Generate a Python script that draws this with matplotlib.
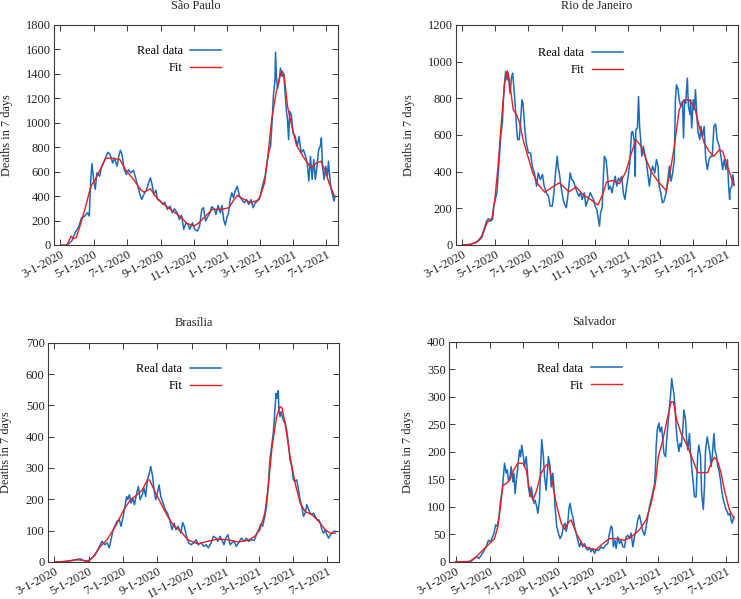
#!/usr/bin/env python3
# Weekly COVID deaths (7-day sums) for four Brazilian cities: real data vs fit.
import matplotlib
matplotlib.use("Agg")
import matplotlib.pyplot as plt
import numpy as np

plt.rcParams["font.family"] = ["Liberation Serif", "DejaVu Serif"]

START = np.datetime64("2020-03-01")
TICK_DATES = ["2020-03-01", "2020-05-01", "2020-07-01", "2020-09-01", "2020-11-01",
              "2021-01-01", "2021-03-01", "2021-05-01", "2021-07-01"]
TICK_LABELS = ["3-1-2020", "5-1-2020", "7-1-2020", "9-1-2020", "11-1-2020",
               "1-1-2021", "3-1-2021", "5-1-2021", "7-1-2021"]

BLUE = "#1a6cbf"
RED = "#ee1c1c"
INK = "#222222"
FRAME = "#3a3a3a"

# --- data: x = days since 3-1-2020 -------------------------------------------

sp_real_day = [12, 21, 27, 33, 39, 45, 50, 53, 56, 58,
               61, 64, 67, 72, 75, 79, 84, 87, 91, 96,
               99, 104, 107, 110, 113, 117, 121, 125, 129, 134,
               137, 142, 145, 149, 153, 158, 162, 165, 168, 171,
               175, 178, 183, 188, 191, 196, 201, 205, 209, 214,
               218, 222, 226, 230, 234, 237, 242, 246, 251, 255,
               259, 262, 266, 269, 274, 277, 282, 285, 289, 293,
               296, 299, 302, 305, 308, 311, 314, 317, 320, 324,
               328, 332, 337, 341, 345, 349, 353, 357, 361, 366,
               370, 375, 378, 382, 385, 388, 390, 393, 394, 396,
               398, 401, 403, 406, 409, 412, 414, 416, 418, 420,
               423, 426, 430, 434, 437, 441, 445, 449, 452, 455,
               458, 461, 464, 467, 470, 473, 476, 478, 480, 483,
               486, 489, 491, 494, 496, 499, 501, 503]
sp_real_val = [0, 33, 100, 140, 223, 237, 264, 237, 550, 666,
               535, 455, 590, 563, 630, 670, 725, 758, 740, 670,
               712, 645, 725, 775, 740, 617, 576, 617, 590, 612,
               563, 481, 427, 372, 413, 454, 514, 549, 495, 413,
               449, 372, 359, 332, 351, 291, 318, 264, 296, 264,
               209, 242, 128, 182, 169, 128, 182, 128, 114, 155,
               291, 305, 196, 223, 264, 313, 296, 250, 324, 264,
               324, 209, 163, 223, 264, 372, 427, 386, 440, 481,
               400, 372, 345, 372, 332, 372, 305, 345, 359, 400,
               481, 563, 658, 767, 808, 1025, 1215, 1351, 1577, 1351,
               1283, 1351, 1447, 1379, 1406, 1215, 1093, 1025, 862, 1093,
               1066, 916, 889, 808, 889, 753, 780, 726, 672, 522,
               726, 536, 699, 536, 644, 780, 808, 876, 644, 536,
               644, 563, 685, 522, 454, 400, 359, 400]
sp_fit_day = [1, 12, 20, 24, 29, 36, 45, 56, 64, 73,
              83, 94, 109, 119, 134, 147, 153, 165, 174, 186,
              202, 220, 232, 245, 254, 266, 278, 294, 309, 318,
              324, 337, 349, 364, 374, 380, 387, 395, 401, 406,
              410, 416, 424, 432, 444, 459, 469, 477, 484, 493, 502]
sp_fit_val = [0, 0, 73, 52, 60, 155, 291, 481, 536, 617,
              710, 710, 699, 617, 536, 454, 432, 460, 400, 345,
              291, 231, 177, 155, 182, 237, 291, 291, 305, 372,
              405, 372, 345, 372, 508, 726, 1025, 1243, 1365, 1425,
              1379, 1134, 971, 821, 726, 631, 672, 685, 617, 495, 400]

rj_real_day = [2, 14, 23, 29, 36, 40, 45, 48, 52, 56,
               58, 61, 64, 66, 69, 71, 74, 76, 78, 80,
               83, 85, 88, 91, 93, 95, 97, 100, 102, 105,
               107, 110, 112, 115, 118, 122, 126, 129, 133, 137,
               140, 144, 148, 151, 155, 159, 162, 166, 169, 172,
               175, 177, 179, 182, 186, 189, 192, 195, 199, 202,
               205, 208, 211, 215, 218, 221, 225, 228, 232, 236,
               239, 242, 245, 248, 251, 253, 255, 258, 260, 262,
               265, 267, 270, 273, 276, 279, 282, 285, 288, 291,
               294, 297, 300, 303, 306, 309, 312, 314, 317, 319,
               320, 323, 325, 327, 329, 331, 334, 336, 339, 342,
               345, 348, 351, 355, 358, 361, 363, 366, 369, 372,
               376, 379, 382, 385, 388, 391, 393, 395, 398, 400,
               403, 406, 408, 410, 412, 415, 417, 420, 421, 423,
               426, 428, 430, 433, 435, 438, 440, 443, 446, 449,
               452, 455, 458, 461, 464, 467, 470, 474, 477, 480,
               483, 486, 489, 491, 493, 494, 497, 499, 501]
rj_real_val = [0, 0, 13, 22, 49, 85, 130, 143, 130, 140,
               212, 248, 285, 375, 502, 593, 665, 792, 883, 946,
               900, 937, 828, 919, 937, 865, 792, 647, 575, 575,
               647, 792, 774, 647, 556, 502, 502, 430, 393, 321,
               393, 357, 384, 321, 285, 266, 212, 212, 285, 393,
               484, 420, 393, 321, 248, 221, 203, 276, 393, 357,
               348, 321, 294, 266, 285, 248, 285, 212, 248, 285,
               266, 248, 212, 194, 140, 103, 176, 203, 357, 484,
               466, 411, 303, 321, 285, 330, 375, 321, 366, 348,
               375, 285, 248, 321, 375, 448, 611, 620, 575, 375,
               629, 638, 810, 647, 575, 484, 538, 502, 466, 393,
               321, 393, 430, 393, 466, 430, 321, 285, 230, 239,
               285, 357, 430, 348, 393, 466, 792, 874, 847, 792,
               756, 783, 584, 792, 774, 910, 756, 711, 792, 638,
               792, 738, 847, 683, 611, 575, 647, 593, 647, 466,
               411, 466, 484, 484, 647, 660, 575, 538, 484, 411,
               466, 411, 466, 330, 248, 303, 321, 384, 330]
rj_fit_day = [0, 14, 26, 36, 40, 45, 50, 55, 60, 66,
              72, 78, 83, 88, 94, 100, 106, 112, 121, 130,
              140, 152, 164, 179, 189, 197, 210, 222, 235, 250,
              259, 266, 277, 290, 302, 311, 320, 330, 339, 348,
              363, 376, 382, 391, 400, 409, 418, 428, 437, 446,
              455, 464, 474, 480, 489, 501]
rj_fit_val = [0, 4, 13, 40, 76, 118, 134, 149, 248, 430,
              665, 883, 950, 874, 738, 711, 665, 575, 484, 393,
              330, 288, 312, 339, 312, 290, 317, 276, 252, 218,
              276, 343, 352, 334, 402, 493, 575, 538, 466, 402,
              339, 297, 375, 538, 738, 792, 792, 756, 647, 556,
              511, 484, 520, 511, 430, 324]

bsb_real_day = [1, 16, 28, 37, 46, 55, 61, 67, 73, 79,
                85, 90, 94, 98, 101, 105, 109, 112, 116, 119,
                123, 126, 129, 131, 134, 137, 140, 143, 147, 150,
                153, 157, 160, 163, 166, 169, 172, 175, 178, 181,
                184, 187, 190, 194, 198, 202, 206, 210, 214, 217,
                221, 226, 229, 232, 236, 240, 244, 249, 253, 257,
                262, 267, 271, 275, 280, 284, 289, 292, 296, 299,
                303, 306, 310, 314, 317, 321, 325, 329, 334, 339,
                343, 347, 352, 357, 362, 365, 369, 372, 376, 379,
                382, 385, 388, 391, 394, 396, 398, 400, 401, 403,
                405, 407, 410, 412, 415, 418, 421, 424, 427, 430,
                433, 436, 439, 442, 445, 448, 451, 454, 457, 460,
                463, 466, 469, 472, 475, 478, 481, 484, 487, 490,
                493, 496, 499, 502]
bsb_real_val = [0, 1, 4, 7, 10, 2, 5, 13, 23, 45,
                66, 55, 61, 45, 71, 103, 119, 130, 135, 114,
                146, 177, 209, 199, 215, 188, 204, 183, 220, 241,
                199, 215, 236, 209, 262, 278, 305, 278, 230, 199,
                220, 246, 209, 188, 167, 156, 135, 103, 124, 103,
                114, 92, 126, 114, 82, 61, 55, 61, 71, 55,
                61, 50, 55, 45, 61, 82, 76, 66, 82, 71,
                55, 76, 87, 55, 61, 66, 50, 61, 76, 66,
                76, 66, 71, 69, 92, 103, 122, 114, 146, 177,
                241, 326, 369, 411, 485, 538, 523, 547, 485, 464,
                480, 464, 448, 448, 422, 379, 326, 305, 262, 257,
                262, 230, 199, 177, 146, 156, 183, 167, 156, 151,
                156, 146, 135, 135, 124, 103, 92, 103, 87, 76,
                87, 92, 98, 98]
bsb_fit_day = [1, 22, 40, 52, 61, 70, 82, 94, 109, 124,
               136, 148, 157, 166, 170, 178, 190, 202, 214, 226,
               238, 256, 274, 292, 310, 328, 346, 358, 367, 376,
               382, 389, 397, 403, 407, 413, 421, 430, 439, 448,
               460, 472, 484, 493, 502]
bsb_fit_val = [0, 2, 7, 5, 2, 18, 50, 71, 114, 167,
               199, 215, 230, 262, 262, 230, 188, 146, 114, 98,
               71, 58, 66, 73, 71, 64, 69, 82, 103, 156,
               241, 369, 464, 496, 491, 432, 337, 252, 188, 161,
               151, 130, 103, 92, 92]

ssa_real_day = [2, 19, 28, 34, 38, 42, 46, 50, 55, 59,
                63, 66, 69, 72, 75, 78, 81, 84, 86, 88,
                91, 93, 95, 98, 100, 103, 105, 107, 110, 112,
                115, 117, 119, 122, 124, 127, 129, 131, 134, 136,
                139, 141, 143, 146, 148, 151, 153, 155, 158, 160,
                163, 165, 167, 170, 172, 175, 177, 179, 182, 185,
                188, 191, 194, 197, 199, 202, 204, 206, 209, 211,
                214, 217, 220, 223, 226, 229, 232, 235, 238, 241,
                244, 247, 250, 253, 257, 262, 266, 270, 274, 277,
                280, 282, 284, 287, 289, 292, 295, 298, 301, 304,
                307, 310, 313, 316, 319, 322, 325, 328, 331, 334,
                337, 340, 343, 346, 349, 352, 355, 358, 360, 361,
                363, 366, 368, 371, 373, 375, 378, 380, 383, 385,
                387, 389, 391, 393, 395, 397, 399, 402, 404, 406,
                409, 411, 414, 416, 418, 421, 423, 426, 428, 430,
                433, 436, 438, 441, 443, 446, 448, 450, 453, 455,
                458, 460, 462, 465, 467, 470, 472, 474, 477, 479,
                482, 484, 486, 489, 491, 494, 496, 498, 501]
ssa_real_val = [0, 0, 1, 6, 9, 6, 12, 18, 27, 39,
                36, 44, 52, 67, 64, 82, 112, 130, 155, 179,
                161, 167, 148, 155, 173, 145, 161, 124, 155, 173,
                203, 191, 212, 191, 173, 191, 167, 136, 118, 136,
                118, 106, 112, 100, 88, 112, 173, 222, 191, 155,
                130, 161, 191, 173, 136, 161, 136, 100, 64, 52,
                42, 48, 64, 70, 55, 70, 97, 106, 88, 82,
                64, 52, 39, 27, 36, 27, 33, 24, 21, 26,
                18, 24, 15, 22, 20, 27, 24, 30, 33, 52,
                65, 61, 27, 39, 24, 45, 33, 39, 27, 26,
                45, 48, 42, 52, 27, 45, 58, 76, 85, 70,
                55, 48, 64, 82, 100, 112, 127, 139, 173, 209,
                239, 252, 236, 245, 221, 197, 191, 221, 258, 282,
                303, 333, 318, 306, 282, 245, 221, 200, 215, 209,
                239, 276, 258, 221, 203, 233, 197, 161, 142, 118,
                118, 197, 212, 191, 124, 95, 136, 203, 227, 215,
                197, 173, 191, 233, 203, 191, 173, 167, 148, 130,
                112, 106, 97, 91, 85, 88, 76, 70, 82]
ssa_fit_day = [0, 25, 37, 49, 61, 70, 76, 81, 85, 91,
               97, 103, 112, 121, 127, 133, 139, 145, 154, 163,
               168, 172, 181, 190, 196, 202, 208, 217, 229, 241,
               253, 265, 277, 289, 304, 316, 331, 343, 352, 360,
               365, 373, 382, 388, 392, 398, 406, 418, 427, 436,
               445, 454, 460, 466, 472, 478, 484, 493, 501]
ssa_fit_val = [0, 0, 9, 21, 33, 42, 64, 103, 139, 142,
               148, 164, 179, 179, 167, 130, 112, 127, 161, 176,
               176, 155, 106, 70, 59, 70, 76, 52, 30, 24,
               22, 33, 42, 42, 39, 45, 58, 76, 106, 145,
               191, 221, 264, 291, 291, 258, 233, 209, 185, 162,
               162, 162, 179, 190, 182, 161, 130, 94, 79]

# --- layout (figure fractions) -----------------------------------------------

LAYOUT = {
    "São Paulo":      dict(rect=[0.0729, 0.5910, 0.3833, 0.3673], ylab=-0.146, leg=(0.588, 0.910)),
    "Rio de Janeiro": dict(rect=[0.6154, 0.5910, 0.3806, 0.3673], ylab=-0.146, leg=(0.592, 0.900)),
    "Brasília":       dict(rect=[0.0648, 0.0618, 0.3927, 0.3661], ylab=-0.124, leg=(0.594, 0.906)),
    "Salvador":       dict(rect=[0.6063, 0.0623, 0.3897, 0.3672], ylab=-0.122, leg=(0.598, 0.905)),
}


def draw_panel(fig, title, real_day, real_val, fit_day, fit_val, ymax, ystep):
    lay = LAYOUT[title]
    ax = fig.add_axes(lay["rect"])
    ax.plot(real_day, real_val, color=BLUE, lw=1.1, label="Real data")
    ax.plot(fit_day, fit_val, color=RED, lw=1.0, label="Fit")

    ticks = [int((np.datetime64(d) - START).astype(int)) for d in TICK_DATES]
    ax.set_xticks(ticks)
    ax.set_xticklabels(TICK_LABELS, rotation=28, ha="right", va="top",
                       rotation_mode="anchor")
    ax.set_xlim(-11.5, 508.5)
    ax.set_ylim(0, ymax)
    ax.set_yticks(np.arange(0, ymax + 1, ystep))

    ax.tick_params(direction="in", top=True, right=True, length=4, width=0.7,
                   color=FRAME, labelcolor=INK, labelsize=9.0, pad=2.5)
    for s in ax.spines.values():
        s.set_color(FRAME)
        s.set_linewidth(0.8)

    ax.set_title(title, fontsize=8.8, color=INK, pad=11.8)
    ax.set_ylabel("Deaths in 7 days", fontsize=8.8, color=INK)
    ax.yaxis.set_label_coords(lay["ylab"], 0.5)

    ax.legend(loc="upper right", bbox_to_anchor=lay["leg"], frameon=False,
              markerfirst=False, fontsize=8.8, handlelength=2.55,
              handletextpad=0.6, labelspacing=0.42, borderpad=0,
              borderaxespad=0)
    return ax


def main():
    fig = plt.figure(figsize=(7.41, 5.99), dpi=100)
    draw_panel(fig, "São Paulo", sp_real_day, sp_real_val, sp_fit_day, sp_fit_val, 1800, 200)
    draw_panel(fig, "Rio de Janeiro", rj_real_day, rj_real_val, rj_fit_day, rj_fit_val, 1200, 200)
    draw_panel(fig, "Brasília", bsb_real_day, bsb_real_val, bsb_fit_day, bsb_fit_val, 700, 100)
    draw_panel(fig, "Salvador", ssa_real_day, ssa_real_val, ssa_fit_day, ssa_fit_val, 400, 50)
    fig.savefig("out.png", dpi=100)
    plt.close(fig)


if __name__ == "__main__":
    main()
